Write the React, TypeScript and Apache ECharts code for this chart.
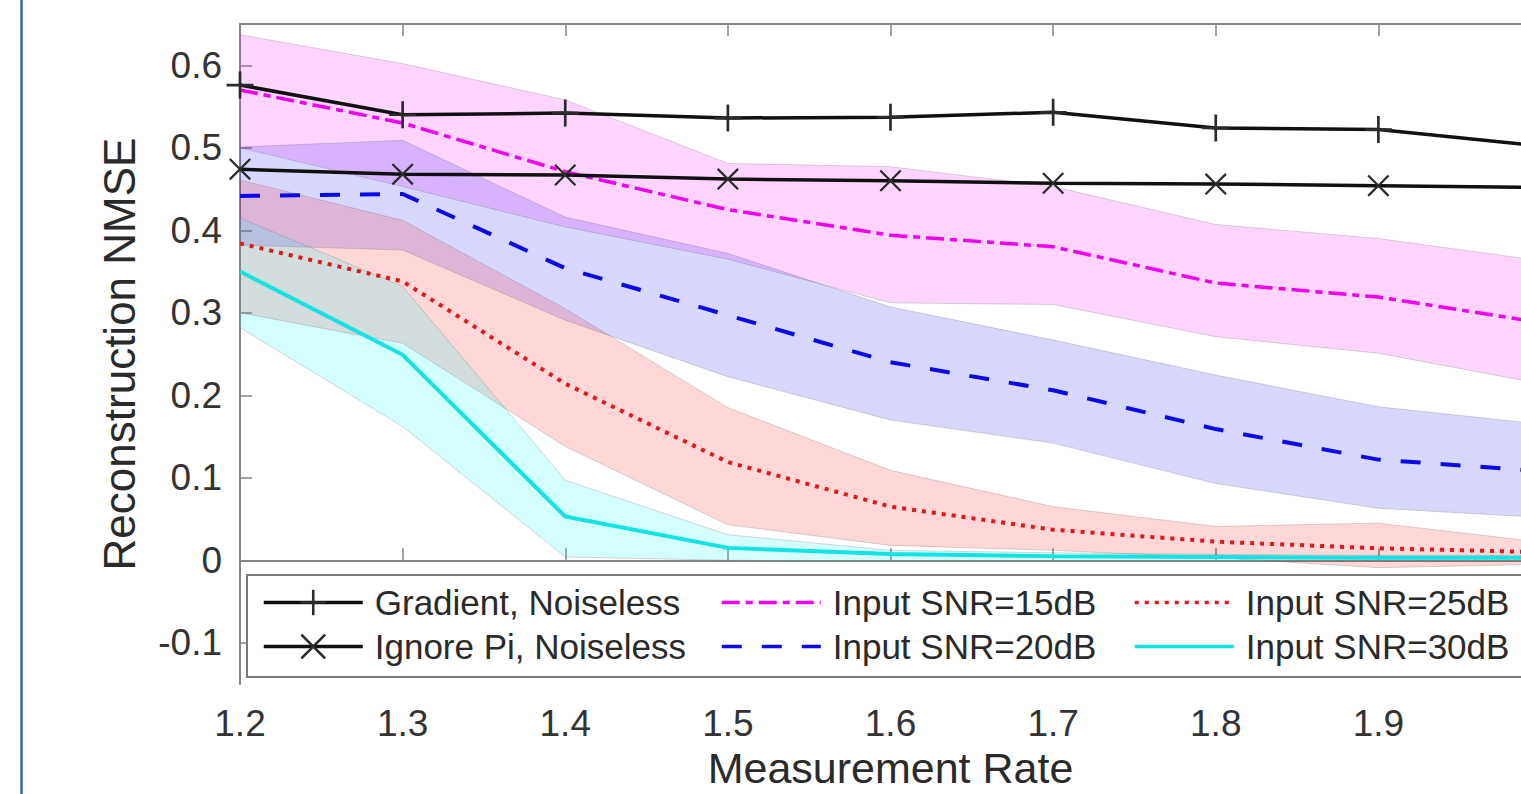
import React, { useEffect, useRef } from "react";
import * as echarts from "echarts";

// ---------- data ----------
const xCategories = ["1.2", "1.3", "1.4", "1.5", "1.6", "1.7", "1.8", "1.9", "2"];
const yTickValues = [-0.1, 0, 0.1, 0.2, 0.3, 0.4, 0.5, 0.6];

const gradientNoiseless = [0.576, 0.54, 0.542, 0.536, 0.537, 0.543, 0.524, 0.522, 0.502];
const ignorePiNoiseless = [0.474, 0.468, 0.467, 0.462, 0.46, 0.457, 0.456, 0.454, 0.452];

const snr15 = [0.57, 0.53, 0.471, 0.425, 0.394, 0.38, 0.336, 0.319, 0.288];
const snr15Upper = [0.637, 0.602, 0.558, 0.481, 0.477, 0.453, 0.407, 0.39, 0.363];
const snr15Lower = [0.5, 0.453, 0.404, 0.365, 0.312, 0.31, 0.271, 0.251, 0.214];

const snr20 = [0.4415, 0.444, 0.354, 0.297, 0.24, 0.206, 0.159, 0.122, 0.108];
const snr20Upper = [0.501, 0.509, 0.416, 0.372, 0.307, 0.267, 0.2245, 0.186, 0.165];
const snr20Lower = [0.382, 0.376, 0.291, 0.2225, 0.17, 0.142, 0.093, 0.063, 0.052];

const snr25 = [0.384, 0.338, 0.214, 0.119, 0.065, 0.037, 0.0225, 0.0145, 0.0098];
const snr25Upper = [0.461, 0.412, 0.305, 0.185, 0.109, 0.065, 0.041, 0.045, 0.022];
const snr25Lower = [0.3, 0.263, 0.138, 0.043, 0.018, 0.012, 0.003, -0.009, -0.005];

const snr30 = [0.35, 0.249, 0.053, 0.015, 0.0076, 0.005, 0.004, 0.003, 0.003];
const snr30Upper = [0.415, 0.332, 0.097, 0.031, 0.012, 0.009, 0.007, 0.006, 0.006];
const snr30Lower = [0.282, 0.162, 0.004, 0.0, -0.001, -0.001, -0.001, -0.001, -0.001];

const NAME_GRAD = "Gradient, Noiseless";
const NAME_IGN = "Ignore Pi, Noiseless";
const NAME_15 = "Input SNR=15dB";
const NAME_20 = "Input SNR=20dB";
const NAME_25 = "Input SNR=25dB";
const NAME_30 = "Input SNR=30dB";

// ---------- styles ----------
const FONT = "'Liberation Sans', Arial, Helvetica, sans-serif";
const AXIS_GRAY = "#858585";
const TEXT_COLOR = "#2a2a2a";
const EDGE = "rgba(110,110,110,0.28)";

const PLUS_PATH =
  "path://M-1.3,-13L1.3,-13L1.3,13L-1.3,13Z M-13,-1.3L13,-1.3L13,1.3L-13,1.3Z";
const CROSS_PATH =
  "path://M-10.78,-9.22L9.22,10.78L10.78,9.22L-9.22,-10.78Z M-10.78,9.22L-9.22,10.78L10.78,-9.22L9.22,-10.78Z";

function band(id: string, lower: number[], upper: number[], fill: string) {
  const diff = upper.map((u, i) => u - lower[i]);
  return [
    {
      type: "line",
      name: id + "-lo",
      stack: id,
      stackStrategy: "all",
      data: lower,
      symbol: "none",
      silent: true,
      z: 1,
      lineStyle: { color: EDGE, width: 1 },
    },
    {
      type: "line",
      name: id + "-hi",
      stack: id,
      stackStrategy: "all",
      data: diff,
      symbol: "none",
      silent: true,
      z: 1,
      lineStyle: { color: EDGE, width: 1 },
      areaStyle: { color: fill, opacity: 1 },
    },
  ];
}

function plainLine(name: string, data: number[], color: string, width: number, type: any) {
  return {
    type: "line",
    name,
    data,
    symbol: "circle",
    showSymbol: false,
    silent: true,
    z: 2,
    itemStyle: { color, opacity: 0 },
    lineStyle: { color, width, type, cap: "butt" },
  };
}

function markerLine(name: string, data: number[], symbol: string, size: number) {
  return {
    type: "line",
    name,
    data,
    symbol,
    symbolSize: size,
    showSymbol: true,
    silent: true,
    z: 2,
    itemStyle: { color: "#2b2b2b", borderWidth: 0 },
    lineStyle: { color: "#111111", width: 3.5, type: "solid" },
  };
}

export default function App() {
  const ref = useRef<HTMLDivElement>(null);

  useEffect(() => {
    if (!ref.current) return;
    const chart = echarts.init(ref.current, undefined, { renderer: "svg" });

    const legendCommon = {
      orient: "vertical",
      itemWidth: 99,
      itemHeight: 32,
      itemGap: 9,
      padding: 0,
      selectedMode: false,
      z: 4,
      lineStyle: { width: 3.5 },
      textStyle: { fontSize: 35, color: TEXT_COLOR, fontFamily: FONT, padding: [0, 0, 0, 7] },
    };
    const hiddenIcon = (name: string) => ({ name, itemStyle: { opacity: 0 } });
    const lastIndex = xCategories.length - 1;

    const option: any = {
      animation: false,
      backgroundColor: "#ffffff",
      grid: {
        left: 240,
        top: 24,
        right: -20,
        bottom: 110,
        show: false,
        containLabel: false,
        outerBoundsMode: "none",
      },
      xAxis: [
        {
          type: "category",
          data: xCategories,
          boundaryGap: false,
          position: "bottom",
          name: "Measurement Rate",
          nameLocation: "middle",
          nameGap: 62,
          nameTextStyle: { fontSize: 43, lineHeight: 43, color: TEXT_COLOR, fontFamily: FONT },
          axisLine: { show: true, lineStyle: { color: AXIS_GRAY, width: 2 } },
          axisTick: { show: true, inside: true, length: 12, interval: 0, lineStyle: { color: AXIS_GRAY, width: 1.5 } },
          axisLabel: {
            show: true,
            interval: (index: number) => index < lastIndex,
            margin: 21,
            fontSize: 37,
            color: "#333333",
            fontFamily: FONT,
          },
          splitLine: { show: false },
        },
        {
          type: "category",
          data: xCategories,
          boundaryGap: false,
          position: "top",
          axisLine: { show: true, lineStyle: { color: AXIS_GRAY, width: 2 } },
          axisTick: { show: true, inside: true, length: 12, interval: 0, lineStyle: { color: AXIS_GRAY, width: 1.5 } },
          axisLabel: { show: false },
          splitLine: { show: false },
        },
      ],
      yAxis: [
        {
          type: "value",
          min: -0.15,
          max: 0.65,
          name: "Reconstruction NMSE",
          nameLocation: "middle",
          nameGap: 99,
          nameTextStyle: { fontSize: 44, color: TEXT_COLOR, fontFamily: FONT },
          axisLine: { show: true, lineStyle: { color: AXIS_GRAY, width: 2 } },
          axisTick: { show: true, inside: true, length: 12, customValues: yTickValues, lineStyle: { color: AXIS_GRAY, width: 1.5 } },
          axisLabel: { show: true, margin: 18, fontSize: 37, color: "#333333", fontFamily: FONT, customValues: yTickValues },
          splitLine: { show: false },
        },
      ],
      legend: [
        { ...legendCommon, left: 262, top: 585, data: [NAME_GRAD, NAME_IGN] },
        { ...legendCommon, left: 720, top: 585, data: [hiddenIcon(NAME_15), hiddenIcon(NAME_20)] },
        { ...legendCommon, left: 1133, top: 585, data: [hiddenIcon(NAME_25), hiddenIcon(NAME_30)] },
      ],
      graphic: [
        {
          type: "line",
          z: 10,
          shape: { x1: 21.5, y1: 0, x2: 21.5, y2: 794 },
          style: { stroke: "#3a62ad", lineWidth: 2.5 },
          silent: true,
        },
        {
          type: "rect",
          z: 3,
          shape: { x: 247, y: 575, width: 1400, height: 102 },
          style: { fill: "#ffffff", stroke: "#7a7a7a", lineWidth: 2 },
          silent: true,
        },
      ],
      series: [
        ...band("b15", snr15Lower, snr15Upper, "rgba(255,0,255,0.165)"),
        ...band("b20", snr20Lower, snr20Upper, "rgba(0,0,255,0.155)"),
        ...band("b25", snr25Lower, snr25Upper, "rgba(255,0,0,0.155)"),
        ...band("b30", snr30Lower, snr30Upper, "rgba(0,255,255,0.17)"),
        plainLine(NAME_30, snr30, "#14e3e3", 4, "solid"),
        plainLine(NAME_25, snr25, "#e01818", 4, [4, 6]),
        plainLine(NAME_20, snr20, "#0a0ae8", 4, [20, 20]),
        plainLine(NAME_15, snr15, "#f000f0", 3.5, [18, 6, 7, 6]),
        markerLine(NAME_IGN, ignorePiNoiseless, CROSS_PATH, 22),
        markerLine(NAME_GRAD, gradientNoiseless, PLUS_PATH, 27),
      ],
    };

    chart.setOption(option);
    return () => {
      chart.dispose();
    };
  }, []);

  return (
    <div
      ref={ref}
      style={{ position: "fixed", left: 0, top: 0, width: 1521, height: 794, background: "#fff" }}
    />
  );
}
